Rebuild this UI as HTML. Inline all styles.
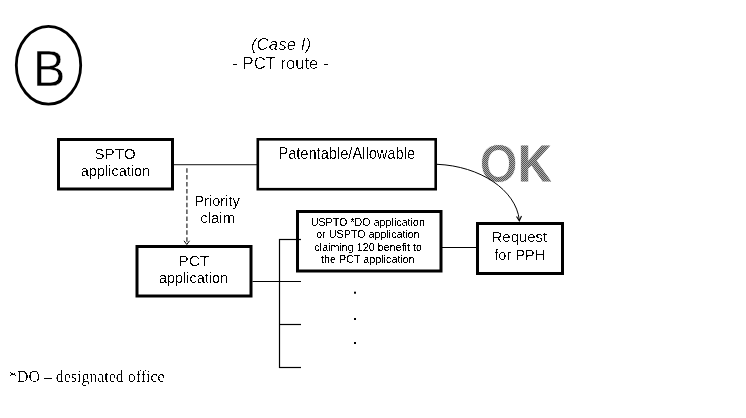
<!DOCTYPE html>
<html><head><meta charset="utf-8">
<style>
html,body{margin:0;padding:0;background:#fff;}
body{width:746px;height:418px;overflow:hidden;position:relative;}
svg{position:absolute;left:0;top:0;will-change:transform;}
text{font-family:"Liberation Sans",sans-serif;text-anchor:middle;}
text.serif{font-family:"Liberation Serif",serif;}
</style></head><body>
<svg width="746" height="418" viewBox="0 0 746 418">
  <defs>
    <filter id="alias" x="0" y="0" width="746" height="418" filterUnits="userSpaceOnUse" color-interpolation-filters="sRGB">
      <feComponentTransfer><feFuncA type="linear" slope="60" intercept="-34"/></feComponentTransfer>
    </filter>
    <filter id="alias3" x="0" y="0" width="746" height="418" filterUnits="userSpaceOnUse" color-interpolation-filters="sRGB">
      <feComponentTransfer><feFuncA type="linear" slope="40" intercept="-24"/></feComponentTransfer>
    </filter>
    <filter id="alias4" x="0" y="0" width="746" height="418" filterUnits="userSpaceOnUse" color-interpolation-filters="sRGB">
      <feComponentTransfer><feFuncA type="linear" slope="60" intercept="-38"/></feComponentTransfer>
    </filter>
    <filter id="alias2" x="0" y="0" width="746" height="418" filterUnits="userSpaceOnUse" color-interpolation-filters="sRGB">
      <feComponentTransfer><feFuncA type="linear" slope="60" intercept="-28"/></feComponentTransfer>
    </filter>
    <pattern id="dither" x="0" y="0" width="2" height="2" patternUnits="userSpaceOnUse">
      <rect x="0" y="0" width="2" height="2" fill="#ababab"/>
      <rect x="1" y="0" width="1" height="1" fill="#555555"/>
      <rect x="0" y="1" width="1" height="1" fill="#555555"/>
    </pattern>
  </defs>
  <!-- B circle -->
  <ellipse cx="48.5" cy="65.25" rx="32.2" ry="38.9" fill="none" stroke="#000" stroke-width="2.8"/>
  <text transform="translate(49.20,85.5) scale(1.0023,1.0339)" font-size="48.5" fill="#000" stroke="#fff" stroke-width="0.45">B</text>
  <g filter="url(#alias4)">
  <text transform="translate(281.02,50) scale(1.0258,1.0204)" font-size="16.5" font-style="italic" fill="#000">(Case I)</text>
  </g>
  <g filter="url(#alias4)">
  <text transform="translate(280.47,69) scale(1.0136,1.0395)" font-size="16.5" fill="#000">- PCT route -</text>
  </g>
  <mask id="okmask" maskUnits="userSpaceOnUse" x="0" y="0" width="746" height="418">
    <text transform="translate(479.42,181.63) scale(1.0285,1.112)" font-size="48" font-weight="bold" style="text-anchor:start" fill="#fff" stroke="#000" stroke-width="0.9">O</text>
    <text transform="translate(518.28,180.6) scale(0.942,1.042)" font-size="48" font-weight="bold" style="text-anchor:start" fill="#fff" stroke="#fff" stroke-width="0.8">K</text>
  </mask>
  <rect x="470" y="130" width="95" height="60" fill="url(#dither)" mask="url(#okmask)"/>
  <rect x="174" y="164" width="83" height="1" fill="#444"/>
  <rect x="174" y="165" width="83" height="1" fill="#cccccc"/>
  <rect x="58.5" y="139.5" width="114" height="49.5" fill="#fff" stroke="#000" stroke-width="3"/>
  <g filter="url(#alias)">
  <text transform="translate(115.00,158.5) scale(1.0475,1.0205)" font-size="14.67" fill="#000">SPTO</text>
  </g>
  <g filter="url(#alias)">
  <text transform="translate(115.47,175.5) scale(0.9896,0.9690)" font-size="14.67" fill="#000">application</text>
  </g>
  <rect x="257.8" y="139.3" width="177.9" height="49.9" fill="#fff" stroke="#000" stroke-width="2.6"/>
  <g filter="url(#alias)">
  <text transform="translate(346.72,159.1) scale(0.9980,1.0717)" font-size="14.67" fill="#000">Patentable/Allowable</text>
  </g>
  <line x1="186.9" y1="168.2" x2="186.9" y2="243.5" stroke="#444" stroke-width="1.4" stroke-dasharray="4.5 2.4"/>
  <polyline points="184,240.8 186.8,244.5 189.5,240.8" fill="none" stroke="#000" stroke-width="1"/>
  <g filter="url(#alias)">
  <text transform="translate(217.08,205.9) scale(0.9978,1.0234)" font-size="14.67" fill="#000">Priority</text>
  </g>
  <g filter="url(#alias)">
  <text transform="translate(217.69,222.5) scale(1.0265,0.9784)" font-size="14.67" fill="#000">claim</text>
  </g>
  <rect x="137" y="246.5" width="114" height="49.5" fill="#fff" stroke="#000" stroke-width="3"/>
  <g filter="url(#alias)">
  <text transform="translate(193.85,265.8) scale(1.0677,1.0403)" font-size="14.67" fill="#000">PCT</text>
  </g>
  <g filter="url(#alias)">
  <text transform="translate(193.53,282.6) scale(0.9839,0.9690)" font-size="14.67" fill="#000">application</text>
  </g>
  <line x1="252.5" y1="281.5" x2="301" y2="281.5" stroke="#000" stroke-width="1.2"/>
  <line x1="279.5" y1="239" x2="279.5" y2="368" stroke="#000" stroke-width="1.2"/>
  <line x1="279" y1="324.5" x2="301" y2="324.5" stroke="#000" stroke-width="1.2"/>
  <line x1="279" y1="367.5" x2="301" y2="367.5" stroke="#000" stroke-width="1.2"/>
  <rect x="354" y="291.7" width="2" height="2" fill="#000"/>
  <rect x="354" y="318" width="2" height="2" fill="#000"/>
  <rect x="354" y="342" width="2" height="2" fill="#000"/>
  <rect x="297.5" y="211.5" width="143.5" height="59.5" fill="#fff" stroke="#000" stroke-width="3"/>
  <g filter="url(#alias2)">
  <text transform="translate(367.80,226) scale(0.9760,1.0301)" font-size="11" fill="#000">USPTO *DO application</text>
  </g>
  <g filter="url(#alias2)">
  <text transform="translate(368.06,238) scale(0.9754,1.0301)" font-size="11" fill="#000">or USPTO application</text>
  </g>
  <g filter="url(#alias2)">
  <text transform="translate(368.15,251) scale(0.9784,1.0037)" font-size="11" fill="#000">claiming 120 benefit to</text>
  </g>
  <g filter="url(#alias2)">
  <text transform="translate(367.92,263) scale(0.9786,1.0301)" font-size="11" fill="#000">the PCT application</text>
  </g>
  <line x1="279" y1="239.5" x2="301" y2="239.5" stroke="#000" stroke-width="1.2"/>
  <line x1="442" y1="247.5" x2="476" y2="247.5" stroke="#000" stroke-width="1.2"/>
  <rect x="477.5" y="223.5" width="85" height="50" fill="#fff" stroke="#000" stroke-width="3"/>
  <g filter="url(#alias)">
  <text transform="translate(519.39,242.4) scale(1.0186,0.9860)" font-size="14.67" fill="#000">Request</text>
  </g>
  <g filter="url(#alias)">
  <text transform="translate(519.78,259.7) scale(0.9932,0.9848)" font-size="14.67" fill="#000">for PPH</text>
  </g>
  <path d="M437,164.3 C480,166 516,190 519.3,220" fill="none" stroke="#000" stroke-width="1"/>
  <polyline points="516.5,216.5 519.3,220.8 521.5,216" fill="none" stroke="#000" stroke-width="1.1"/>
  <g filter="url(#alias3)">
  <text class="serif" transform="translate(9.1,382) scale(0.993,1)" font-size="16" style="text-anchor:start" fill="#000">*DO – designated office</text>
  </g>
</svg>
</body></html>
